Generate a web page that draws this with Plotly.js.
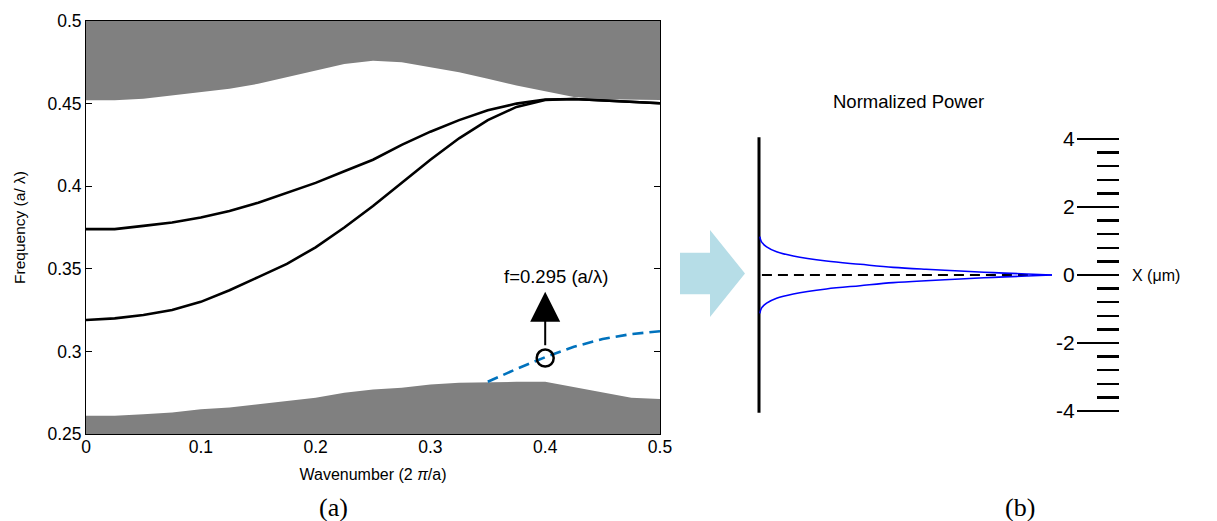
<!DOCTYPE html>
<html>
<head>
<meta charset="utf-8">
<script src="https://cdn.plot.ly/plotly-3.0.1.min.js"></script>
<style>html,body{margin:0;padding:0;background:#fff;}#chart{width:1217px;height:521px;}</style>
</head>
<body>
<div id="chart"></div>
<script>
// ---------- data ----------
var wavenumber = [0,0.025,0.05,0.075,0.1,0.125,0.15,0.175,0.2,0.225,0.25,0.275,0.3,0.325,0.35,0.375,0.4,0.425,0.45,0.475,0.5];
var upperBandEdge = [0.452,0.452,0.453,0.455,0.457,0.459,0.462,0.466,0.470,0.474,0.476,0.475,0.472,0.469,0.465,0.461,0.4575,0.454,0.4526,0.4522,0.4522];
var lowerBandEdge = [0.261,0.261,0.262,0.263,0.265,0.266,0.268,0.270,0.272,0.275,0.277,0.278,0.280,0.281,0.2815,0.2816,0.2816,0.2785,0.275,0.272,0.2712];
var modeUpper = [0.374,0.374,0.376,0.378,0.381,0.385,0.390,0.396,0.402,0.409,0.416,0.425,0.433,0.440,0.446,0.450,0.4525,0.4528,0.452,0.451,0.4502];
var modeLower = [0.319,0.320,0.322,0.325,0.330,0.337,0.345,0.353,0.363,0.375,0.388,0.402,0.416,0.429,0.440,0.448,0.4522,0.4528,0.452,0.451,0.4502];
var guidedK = [0.35,0.375,0.4,0.425,0.45,0.475,0.5];
var guidedF = [0.2816,0.2894,0.2965,0.3028,0.3075,0.3105,0.3122];
var pointK = [0.4];
var pointF = [0.296];
var xTickVals = [0,0.1,0.2,0.3,0.4,0.5];
var xTickText = ['0','0.1','0.2','0.3','0.4','0.5'];
var yTickVals = [0.25,0.3,0.35,0.4,0.45,0.5];
var yTickText = ['0.25','0.3','0.35','0.4','0.45','0.5'];
var xRange = [0,0.5];
var yRange = [0.25,0.5];

// right panel: normalized power profile
var powerUpper = [0.003,0.008,0.026,0.06,0.117,0.23,0.345,0.458,0.57,0.686,0.80,0.914,1.0];
var posUpper = [1.127,0.98,0.83,0.686,0.56,0.41,0.314,0.225,0.167,0.118,0.069,0.03,0];
var powerLower = [0.003,0.008,0.026,0.06,0.117,0.23,0.345,0.458,0.57,0.686,0.80,0.914,1.0];
var posLower = [-1.127,-0.98,-0.83,-0.686,-0.56,-0.41,-0.314,-0.225,-0.167,-0.118,-0.069,-0.03,0];
var wallPower = [0,0];
var wallPos = [-4.05,4.05];
var axisPower = [0.01,0.93];
var axisPos = [0,0];
var posTickVals = [-4,-2,0,2,4];
var posTickText = ['-4','-2','0','2','4'];
var posRange = [-4.3,4.3];
var powerRange = [-0.1,1.05];

// ---------- layout helpers (pixel -> paper) ----------
var W = 1217, H = 521, ML = 86, MR = 98, MT = 21, MB = 87;
var PW = W - ML - MR, PH = H - MT - MB;
function px(x){ return (x - ML) / PW; }
function py(y){ return (H - MB - y) / PH; }
// power axis: 0 -> x=759px, 1 -> x=1052px ; position axis: 0 -> y=275px, 34px per unit
var P0 = 759, P1 = 1052, Y0 = 275, YU = 34;

var FONT = 'Liberation Sans, Arial, Helvetica, sans-serif';
var GRAY = '#808080';

var traces = [
  { x: wavenumber.concat([xRange[1], xRange[0]]), y: upperBandEdge.concat([yRange[1], yRange[1]]),
    type: 'scatter', mode: 'lines', fill: 'toself', fillcolor: GRAY, line: {width: 0, color: GRAY}, hoverinfo: 'skip' },
  { x: wavenumber, y: lowerBandEdge, type: 'scatter', mode: 'lines', fill: 'tozeroy',
    fillcolor: GRAY, line: {width: 0, color: GRAY}, hoverinfo: 'skip' },
  { x: wavenumber, y: modeUpper, type: 'scatter', mode: 'lines', line: {color: '#000', width: 2.6} },
  { x: wavenumber, y: modeLower, type: 'scatter', mode: 'lines', line: {color: '#000', width: 2.6} },
  { x: guidedK, y: guidedF, type: 'scatter', mode: 'lines', line: {color: '#0072BD', width: 2.6, dash: '11px,6px'} },
  { x: pointK, y: pointF, type: 'scatter', mode: 'markers', cliponaxis: false,
    marker: {symbol: 'circle-open', size: 17, color: '#000', line: {width: 2.5, color: '#000'}} },
  // right panel
  { x: axisPower, y: axisPos, xaxis: 'x2', yaxis: 'y2', type: 'scatter', mode: 'lines',
    line: {color: '#000', width: 2.2, dash: '10px,6px'} },
  { x: wallPower, y: wallPos, xaxis: 'x2', yaxis: 'y2', type: 'scatter', mode: 'lines',
    line: {color: '#000', width: 3} },
  { x: powerUpper, y: posUpper, xaxis: 'x2', yaxis: 'y2', type: 'scatter', mode: 'lines',
    line: {color: '#0000ff', width: 1.6, shape: 'spline'} },
  { x: powerLower, y: posLower, xaxis: 'x2', yaxis: 'y2', type: 'scatter', mode: 'lines',
    line: {color: '#0000ff', width: 1.6, shape: 'spline'} }
];

var layout = {
  width: W, height: H,
  margin: {l: ML, r: MR, t: MT, b: MB, pad: 0},
  paper_bgcolor: '#fff', plot_bgcolor: 'rgba(0,0,0,0)',
  showlegend: false,
  font: {family: FONT, color: '#000'},
  xaxis: {
    domain: [0, px(660)], range: xRange, anchor: 'y',
    tickvals: xTickVals, ticktext: xTickText, ticks: 'inside', ticklen: 6, tickwidth: 1, tickcolor: '#000',
    showline: true, linecolor: '#000', linewidth: 1, mirror: 'ticks',
    showgrid: false, zeroline: false, layer: 'below traces',
    tickfont: {size: 17.5, family: FONT}, ticklabelstandoff: -3,
    title: {text: 'Wavenumber (2 <i>π</i>/a)', font: {size: 16, family: FONT}, standoff: 12}
  },
  yaxis: {
    domain: [0, 1], range: yRange, anchor: 'x',
    tickvals: yTickVals, ticktext: yTickText, ticks: 'inside', ticklen: 6, tickwidth: 1, tickcolor: '#000',
    showline: true, linecolor: '#000', linewidth: 1, mirror: 'ticks',
    showgrid: false, zeroline: false, layer: 'below traces',
    tickfont: {size: 17.5, family: FONT},
    title: {text: 'Frequency (a/ λ)', font: {size: 15.5, family: FONT}, standoff: 18}
  },
  xaxis2: {
    domain: [px(P0 + powerRange[0] * (P1 - P0)), px(P0 + powerRange[1] * (P1 - P0))],
    range: powerRange, anchor: 'y2', visible: false, fixedrange: true
  },
  yaxis2: {
    domain: [py(Y0 - posRange[0] * YU), py(Y0 - posRange[1] * YU)], range: posRange, anchor: 'free', position: 1, side: 'left',
    tickvals: posTickVals, ticktext: posTickText, ticks: 'outside', ticklen: 42, tickwidth: 2.5, tickcolor: '#000',
    minor: {dtick: 0.4, tick0: 0, ticks: 'outside', ticklen: 22, tickwidth: 2.5, tickcolor: '#000', showgrid: false},
    showline: false, showgrid: false, zeroline: false, ticklabelstandoff: -2,
    tickfont: {size: 21, family: FONT}
  },
  shapes: [
    { type: 'path', xref: 'paper', yref: 'paper', layer: 'below', line: {width: 0},
      fillcolor: '#b6dde7',
      path: 'M' + px(680) + ',' + py(252.7) + ' L' + px(710) + ',' + py(252.7) + ' L' + px(710) + ',' + py(230) +
            ' L' + px(745) + ',' + py(273.5) + ' L' + px(710) + ',' + py(317) + ' L' + px(710) + ',' + py(294.3) +
            ' L' + px(680) + ',' + py(294.3) + ' Z' }
  ],
  annotations: [
    { xref: 'x', yref: 'y', x: pointK[0], y: 0.3361, axref: 'x', ayref: 'y', ax: pointK[0], ay: 0.3028,
      text: '', showarrow: true, arrowhead: 2, arrowsize: 3, arrowwidth: 2, arrowcolor: '#000' },
    { xref: 'x', yref: 'y', x: 0.409, y: 0.3456, text: 'f=0.295 (a/λ)', showarrow: false,
      font: {size: 18.5, family: FONT, color: '#000'}, xanchor: 'center', yanchor: 'middle' },
    { xref: 'paper', yref: 'paper', x: px(908), y: py(101.7), text: 'Normalized Power', showarrow: false,
      font: {size: 18.5, family: FONT, color: '#000'}, xanchor: 'center', yanchor: 'middle' },
    { xref: 'paper', yref: 'paper', x: px(1130), y: py(275), text: 'X (μm)', showarrow: false,
      font: {size: 16, family: FONT, color: '#000'}, xanchor: 'left', yanchor: 'middle' },
    { xref: 'paper', yref: 'paper', x: px(333), y: py(507), text: '(a)', showarrow: false,
      font: {size: 26, family: 'Liberation Serif, Times New Roman, serif', color: '#000'}, xanchor: 'center', yanchor: 'middle' },
    { xref: 'paper', yref: 'paper', x: px(1020), y: py(507), text: '(b)', showarrow: false,
      font: {size: 26, family: 'Liberation Serif, Times New Roman, serif', color: '#000'}, xanchor: 'center', yanchor: 'middle' }
  ]
};

Plotly.newPlot('chart', traces, layout, {staticPlot: true, displayModeBar: false});
</script>
</body>
</html>
